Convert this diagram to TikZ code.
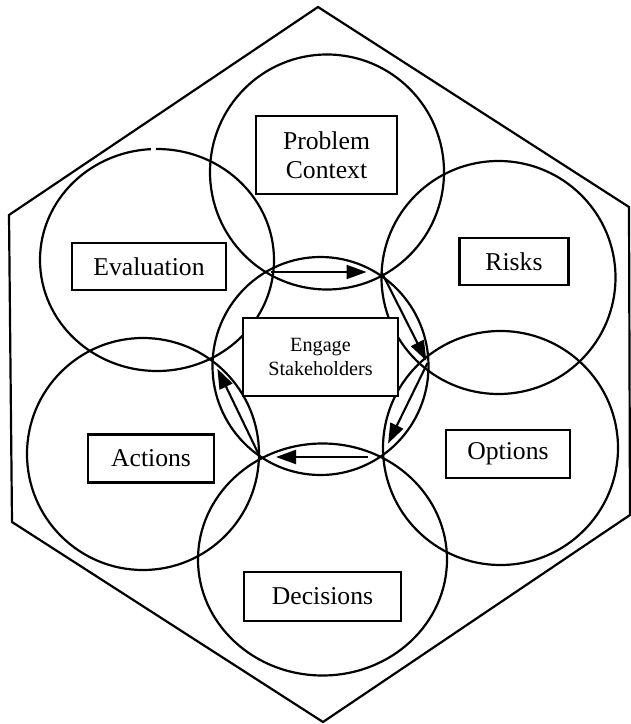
\documentclass[tikz,border=0pt]{standalone}
\usepackage{fontspec}
\setmainfont{Liberation Serif}
\usepackage{tikz}
\usetikzlibrary{calc,arrows.meta}
\def\centerellarc[#1](#2)(#3:#4:#5:#6){\draw[#1] ($(#2)+({#5*cos(#3)},{#6*sin(#3)})$) arc (#3:#4:#5 and #6);}
\tikzset{
	stagering/.style={line width=1.25pt},
	stagebox/.style={draw, fill=white, line width=1.35pt, inner sep=0pt, align=center, font=\fontsize{14.6}{16.7}\selectfont},
	flowarrow/.style={line width=1.2pt, -{Triangle[length=0.4cm,width=0.28cm]}}
}

\begin{document}
\begin{tikzpicture}
			%%%%% START %%%%%
			\useasboundingbox (0, 0) rectangle (12.62, 14.48);
			
			\draw[line width=1.25pt] (6.36, 14.34) -- (12.58, 10.34) -- (12.60, 4.18) -- (6.46, 0.04) -- (0.24, 4.04) -- (0.18, 10.18) -- cycle;
			
			\draw[stagering] (6.54, 11.04) ellipse (2.34 and 2.35);
			\centerellarc[stagering](3.14, 9.28)(93:450.5:2.34:2.22);
			\draw[stagering] (9.97, 8.93) ellipse (2.34 and 2.33);
			\draw[stagering] (10.01, 5.52) ellipse (2.35 and 2.34);
			\draw[stagering] (2.86, 5.40) ellipse (2.32 and 2.32);
			\draw[stagering] (6.45, 3.29) ellipse (2.49 and 2.32);
			\draw[stagering] (6.41, 7.16) ellipse (2.16 and 2.18);
			
			\coordinate (meetTL) at (5.41, 9.04);
			\coordinate (meetTR) at (7.63, 9.04);
			\coordinate (meetR) at (8.55, 7.22);
			\coordinate (meetBR) at (7.63, 5.34);
			\coordinate (meetBL) at (5.20, 5.34);
			\coordinate (meetL) at (4.23, 7.35);
			
			\draw[flowarrow, shorten >=0.3cm] (meetTL) -- (meetTR);
			\draw[flowarrow, shorten >=0.05cm] (meetTR) -- (meetR);
			\draw[flowarrow, shorten >=0.3cm] (meetR) -- (meetBR);
			\draw[flowarrow, shorten <=0.27cm, shorten >=0.32cm] (meetBR) -- (meetBL);
			\draw[flowarrow, shorten >=0.27cm] (meetBL) -- (meetL);
			
			\node[stagebox, minimum width=2.81cm, minimum height=1.57cm] (context) at (6.53, 11.38) {Problem\\Context};
			\node[stagebox, minimum width=3.09cm, minimum height=0.93cm] (evaluation) at (2.98, 9.15) {Evaluation};
			\node[stagebox, minimum width=2.18cm, minimum height=0.93cm] (risks) at (10.28, 9.25) {Risks};
			\node[stagebox, minimum width=2.49cm, minimum height=0.97cm] (options) at (10.16, 5.40) {Options};
			\node[stagebox, minimum width=2.51cm, minimum height=0.96cm] (actions) at (3.02, 5.31) {Actions};
			\node[stagebox, minimum width=3.13cm, minimum height=0.97cm] (decisions) at (6.45, 2.55) {Decisions};
			\node[stagebox, minimum width=3.11cm, minimum height=1.55cm, font=\fontsize{11.5}{14}\selectfont] (engage) at (6.41, 7.34) {Engage\\Stakeholders};
			%%%%% END %%%%%
\end{tikzpicture}
\end{document}
